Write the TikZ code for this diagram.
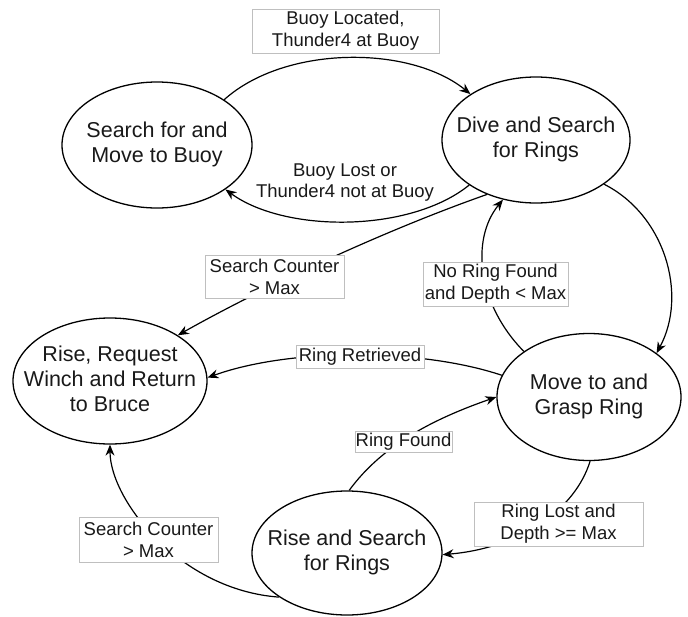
\documentclass[tikz,border=0pt]{standalone}
\usepackage{fontspec}
\setmainfont{Liberation Sans}
\usetikzlibrary{shapes.geometric,arrows.meta}
\newcommand\stxt[1]{\makebox[0pt]{\begin{tabular}{@{}c@{}}#1\end{tabular}}}
\begin{document}
\begin{tikzpicture}[x=1pt,y=-1pt,
  state/.style={draw, ellipse, line width=1.3pt, inner sep=0pt, text=black!90,
    font=\fontsize{21.5}{25}\selectfont},
  edge/.style={line width=1.2pt, -{Stealth[length=11pt,width=9pt]}},
  lbl/.style={draw=black!25, line width=0.6pt, fill=white, inner sep=0pt,
    align=center, text=black!90, font=\fontsize{18.5}{22}\selectfont},
  plainlbl/.style={fill=white, inner sep=1pt, align=center, text=black!90,
    font=\fontsize{18.5}{21}\selectfont}]
\useasboundingbox (0,0) rectangle (688,616);

% states
\node[state, minimum width=190pt, minimum height=126pt] (s1) at (157,145) {\stxt{Search for and\\Move to Buoy}};
\node[state, minimum width=188pt, minimum height=126pt] (s2) at (536,140) {\stxt{Dive and Search\\for Rings}};
\node[state, minimum width=194pt, minimum height=126pt] (s3) at (110,381) {\stxt{Rise, Request\\Winch and Return\\to Bruce}};
\node[state, minimum width=184pt, minimum height=127pt] (s4) at (589,397) {\stxt{Move to and\\Grasp Ring}};
\node[state, minimum width=190pt, minimum height=124pt] (s5) at (347,553) {\stxt{Rise and Search\\for Rings}};

% transitions
\draw[edge] (s1.34) .. controls (285,45) and (410,45) .. (s2.145);
\draw[edge] (s2.214) .. controls (410,233) and (285,233) .. (s1.-33);
\draw[edge] (s2.228) .. controls (380,232) and (258,290) .. (s3.34);
\draw[edge] (s4.145) .. controls (478,305) and (470,240) .. (s2.241);
\draw[edge] (s2.-33) .. controls (665,215) and (688,295) .. (s4.33);
\draw[edge] (s4.166) .. controls (420,348) and (290,348) .. (s3.2);
\draw[edge] (s5.88) .. controls (383,444) and (436,418) .. (s4.180);
\draw[edge] (s4.-89) .. controls (575,510) and (520,548) .. (s5.-1);
\draw[edge] (s5.213) .. controls (180,590) and (110,500) .. (s3.270);

% labels
\node[lbl, minimum width=187pt, minimum height=44pt] (l1) at (345.5,31) {Buoy Located,\\Thunder4 at Buoy};
\node[plainlbl] (l2) at (345,183) {Buoy Lost or\\Thunder4 not at Buoy};
\node[lbl, minimum width=139pt, minimum height=43pt] (l3) at (274.5,276.5) {Search Counter\\> Max};
\node[lbl, minimum width=145pt, minimum height=44pt] (l4) at (495.5,284) {No Ring Found\\and Depth < Max};
\node[lbl, minimum width=128pt, minimum height=23pt] (l5) at (360,356.5) {Ring Retrieved};
\node[lbl, minimum width=97pt, minimum height=21pt] (l6) at (403.5,442) {Ring Found};
\node[lbl, minimum width=169pt, minimum height=44pt] (l7) at (558.5,524) {Ring Lost and\\Depth >= Max};
\node[lbl, minimum width=139pt, minimum height=45pt] (l8) at (148.5,539.5) {Search Counter\\> Max};
\end{tikzpicture}
\end{document}
